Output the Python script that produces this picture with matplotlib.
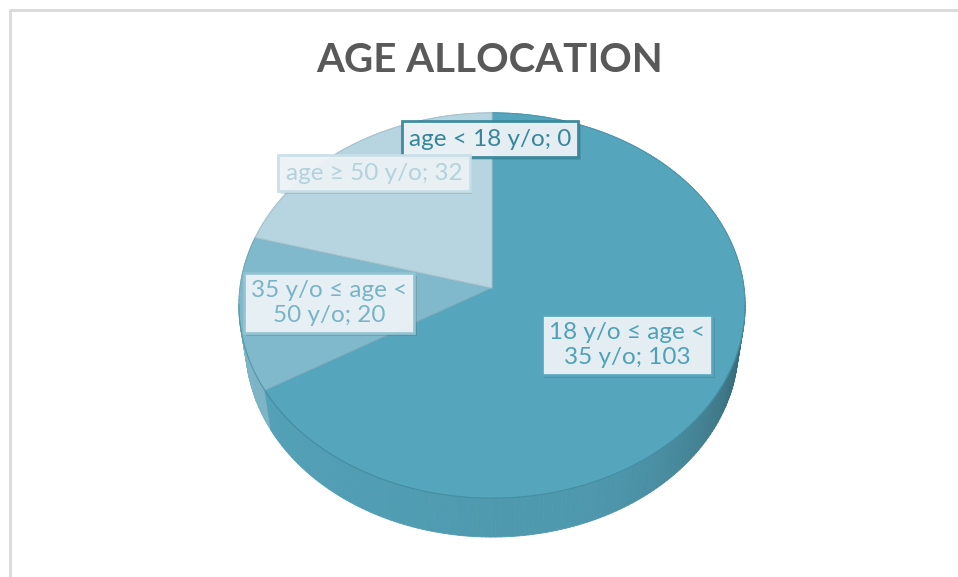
import numpy as np
import matplotlib
matplotlib.use("Agg")
import matplotlib.pyplot as plt
from matplotlib.collections import PolyCollection
from matplotlib.patches import Polygon
from matplotlib import colors as mcolors
from matplotlib import patheffects as pe

W, H = 958, 577

# data
labels = ["age < 18 y/o; 0", "18 y/o \u2264 age <\n35 y/o; 103",
          "35 y/o \u2264 age <\n50 y/o; 20", "age \u2265 50 y/o; 32"]
values = [0, 103, 20, 32]
slice_colors = ["#3C8A9F", "#55A5BC", "#7FB9CB", "#B6D5E0"]

# label styling (position in pixels, text colour, box edge)
label_pos = [(490, 139), (627, 345), (329, 303), (374, 173)]
label_text_col = ["#37869B", "#4FA1B8", "#79B4C6", "#B3D2DD"]
label_edge_col = ["#37869B", "#56A6BD", "#93C3D2", "#C8DFE7"]

# perspective camera for the 3d pie
cx, cy = 492, 288
phi = np.radians(49.3)
cphi, sphi = np.cos(phi), np.sin(phi)
D = 7.17
f = 1807.0
h = 0.256


def project(X, Y, Z):
    w = D - (Y * cphi + Z * sphi)
    up = -Y * sphi + Z * cphi
    return cx + f * X / w, cy - f * up / w


def shade(col, k):
    r, g, b = mcolors.to_rgb(col)
    return (r * k, g * k, b * k)


fig = plt.figure(figsize=(W / 100, H / 100), dpi=100)
ax = fig.add_axes([0, 0, 1, 1])
ax.set_xlim(0, W)
ax.set_ylim(H, 0)
ax.axis("off")

# chart frame (left and top edges visible)
ax.plot([10, 10, W + 5], [H + 5, 10, 10], color="#D9D9D9", lw=2, solid_capstyle="butt")

total = float(sum(values))
start = -np.pi / 2
bounds = []
acc = start
for v in values:
    bounds.append((acc, acc + 2 * np.pi * v / total))
    acc += 2 * np.pi * v / total

# outer side wall, drawn far to near
quads, qcols, depths = [], [], []
for (a0, a1), col in zip(bounds, slice_colors):
    if a1 - a0 <= 0:
        continue
    n = max(int((a1 - a0) / np.radians(1.0)), 2)
    ts = np.linspace(a0, a1, n + 1)
    for t0, t1 in zip(ts[:-1], ts[1:]):
        tm = 0.5 * (t0 + t1)
        p = [project(np.cos(t0), np.sin(t0), 0), project(np.cos(t1), np.sin(t1), 0),
             project(np.cos(t1), np.sin(t1), -h), project(np.cos(t0), np.sin(t0), -h)]
        quads.append(p)
        c = np.cos(tm)
        k = 0.93 - 0.3 * max(c, 0) ** 3 + 0.05 * max(-c, 0)
        qcols.append(shade(col, k))
        depths.append(np.sin(tm))
order = np.argsort(depths)
pc = PolyCollection([quads[i] for i in order], facecolors=[qcols[i] for i in order],
                    edgecolors=[qcols[i] for i in order], linewidths=0.6)
ax.add_collection(pc)

# top faces
for (a0, a1), col in zip(bounds, slice_colors):
    if a1 - a0 <= 0:
        continue
    ts = np.linspace(a0, a1, 200)
    xs, ys = project(np.cos(ts), np.sin(ts), 0 * ts)
    pts = [(cx, cy)] + list(zip(xs, ys))
    ax.add_patch(Polygon(pts, closed=True, facecolor=col,
                         edgecolor=shade(col, 0.92), lw=0.8))

# rim line between top face and side
ts = np.linspace(np.radians(5), np.radians(175), 200)
xs, ys = project(np.cos(ts), np.sin(ts), 0 * ts)
ax.plot(xs, ys, color="#3F8599", lw=0.7, alpha=0.6)

# data labels
for txt, (lx, ly), tc, ec in zip(labels, label_pos, label_text_col, label_edge_col):
    t = ax.text(lx, ly, txt, ha="center", va="center", fontsize=17.5,
                family=["Lato", "DejaVu Sans"], color=tc, linespacing=1.2,
                bbox=dict(boxstyle="square,pad=0.3", facecolor="#EDF4F7",
                          edgecolor=ec, lw=2, alpha=0.95))
    t.get_bbox_patch().set_path_effects(
        [pe.SimplePatchShadow(offset=(2, -2), alpha=0.18), pe.Normal()])

ax.text(490, 61, "AGE ALLOCATION", ha="center", va="center", fontsize=29,
        fontweight="bold", family=["Lato", "DejaVu Sans"], color="#595959")

fig.savefig("out.png", dpi=100)
